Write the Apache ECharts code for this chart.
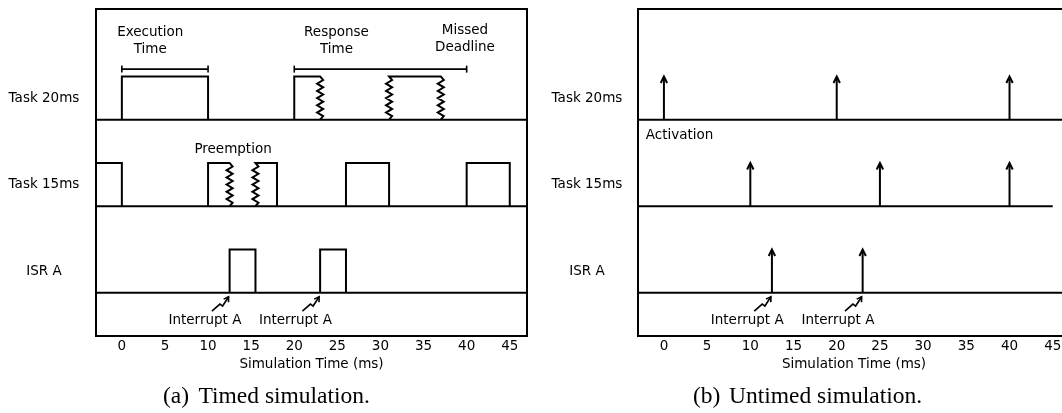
<!DOCTYPE html>
<html><head><meta charset="utf-8">
<script src="https://cdn.jsdelivr.net/npm/echarts@6/dist/echarts.min.js"></script>
<style>html,body{margin:0;padding:0;background:#fff}#c{width:1062px;height:413px}</style>
</head><body><div id="c"></div>
<script>
// ---------------- data ----------------
const tickValues = [0, 5, 10, 15, 20, 25, 30, 35, 40, 45];
const rowNames = ['ISR A', 'Task 15ms', 'Task 20ms'];   // bottom to top
const rowLevels = [1, 2, 3];
// Timed simulation: execution segments [start, end, startEdge, endEdge]
// 'e' = plain edge, 'z' = preempted / resumed (zigzag), 'n' = none (cut by frame)
const timedTask20 = [[0, 10, 'e', 'e'], [20, 23, 'e', 'z'], [31, 37, 'z', 'z']];
const timedTask15 = [[-3, 0, 'n', 'e'], [10, 12.5, 'e', 'z'], [15.5, 18, 'z', 'e'], [26, 31, 'e', 'e'], [40, 45, 'e', 'e']];
const timedISR = [[12.5, 15.5, 'e', 'e'], [23, 26, 'e', 'e']];
const interruptTimes = [12.5, 23];
// Untimed simulation: activation times
const untimedTask20 = [0, 20, 40];
const untimedTask15 = [10, 25, 40];
const untimedISR = [12.5, 23];
// Brackets (ms)
const execBracket = [0, 10];
const respBracket = [20, 40];
// Annotation texts
const timedNotes = [
  [3.3, 3.913, 'Execution\nTime', 'center'],
  [24.9, 3.913, 'Response\nTime', 'center'],
  [39.8, 3.938, 'Missed\nDeadline', 'center'],
  [12.9, 2.661, 'Preemption', 'center']
];
const untimedNotes = [[-2.1, 2.815, 'Activation', 'left']];
const bracketLevel = 3.585;
const xMin = -3, xMax = 47, yMin = 0.5, yMax = 4.28, PULSE_H = 0.5;

// ---------------- drawing helpers ----------------
const FONT = 'DejaVu Sans', FS = 13.5, LW = 2;
const ls = () => ({ stroke: '#000', lineWidth: LW, fill: null });
const ts = (text, align) => ({ text, fill: '#000', fontSize: FS, fontFamily: FONT, align: align || 'center', verticalAlign: 'middle', lineHeight: 17 });

function zigzag(x, yTop, yBot, topToBottom) {
  const N = 12, amp = 3, pts = [];
  for (let k = 0; k <= N; k++) {
    const dx = (k === 0 || k === N) ? 0 : (k % 2 ? amp : -amp);
    pts.push([x + dx, yTop + (yBot - yTop) * k / N]);
  }
  return topToBottom ? pts : pts.reverse();
}

function pulseSeries(gi, rows) {
  const items = [];
  rows.forEach(([lvl, segs]) => segs.forEach(s => items.push({ lvl, s })));
  return {
    type: 'custom', xAxisIndex: gi, yAxisIndex: gi, silent: true, clip: false, z: 5,
    data: items.map(it => [it.s[0], it.lvl, it.s[1]]),
    renderItem(params, api) {
      const x0 = api.value(0), lvl = api.value(1), x1 = api.value(2);
      const it = items[params.dataIndex];
      const pb = api.coord([x0, lvl]), pt = api.coord([x0, lvl + PULSE_H]);
      const qb = api.coord([x1, lvl]), qt = api.coord([x1, lvl + PULSE_H]);
      let pts = [];
      const st = it.s[2], en = it.s[3];
      if (st === 'e') pts.push(pb, pt);
      else if (st === 'z') pts = pts.concat(zigzag(pb[0], pt[1], pb[1], false));
      else pts.push(pt);
      if (en === 'e') pts.push(qt, qb);
      else if (en === 'z') pts = pts.concat(zigzag(qb[0], qt[1], qb[1], true));
      else pts.push(qt);
      return { type: 'polyline', shape: { points: pts }, style: ls() };
    }
  };
}

function baselineSeries(gi, spans) {
  return {
    type: 'custom', xAxisIndex: gi, yAxisIndex: gi, silent: true, clip: false, z: 4,
    data: spans,
    renderItem(params, api) {
      const a = api.coord([api.value(1), api.value(0)]), b = api.coord([api.value(2), api.value(0)]);
      return { type: 'line', shape: { x1: a[0], y1: a[1], x2: b[0], y2: b[1] }, style: ls() };
    }
  };
}

function arrowSeries(gi, rows) {
  const data = [];
  rows.forEach(([lvl, xs]) => xs.forEach(x => data.push([x, lvl])));
  return {
    type: 'custom', xAxisIndex: gi, yAxisIndex: gi, silent: true, clip: false, z: 5,
    data,
    renderItem(params, api) {
      const b = api.coord([api.value(0), api.value(1)]);
      const t = api.coord([api.value(0), api.value(1) + PULSE_H]);
      return {
        type: 'group', children: [
          { type: 'line', shape: { x1: b[0], y1: b[1], x2: t[0], y2: t[1] + 1 }, style: ls() },
          { type: 'polyline', shape: { points: [[t[0] - 3.2, t[1] + 6.5], [t[0], t[1]], [t[0] + 3.2, t[1] + 6.5]] }, style: ls() }
        ]
      };
    }
  };
}

function interruptSeries(gi, times) {
  return {
    type: 'custom', xAxisIndex: gi, yAxisIndex: gi, silent: true, clip: false, z: 6,
    data: times.map(t => [t, rowLevels[0]]),
    renderItem(params, api) {
      const p = api.coord([api.value(0), api.value(1)]);
      const tx = p[0] - 1, ty = p[1] + 4;
      const rel = [[-16.7, 14.3], [-8.7, 7.3], [-6, 9.3], [0, 0]];
      const pts = rel.map(r => [tx + r[0], ty + r[1]]);
      const dx = 6, dy = -9.3, L = Math.hypot(dx, dy), ux = dx / L, uy = dy / L;
      const head = (ang) => {
        const c = Math.cos(ang), s = Math.sin(ang);
        const bx = -ux, by = -uy;
        return [tx + 5.5 * (bx * c - by * s), ty + 5.5 * (bx * s + by * c)];
      };
      return {
        type: 'group', children: [
          { type: 'polyline', shape: { points: pts }, style: { stroke: '#000', lineWidth: 1.6, fill: null } },
          { type: 'polyline', shape: { points: [head(0.55), [tx, ty], head(-0.55)] }, style: { stroke: '#000', lineWidth: 1.6, fill: null } },
          { type: 'text', x: p[0] - 24.7, y: p[1] + 27.3, style: ts('Interrupt A') }
        ]
      };
    }
  };
}

function bracketSeries(gi, brs) {
  return {
    type: 'custom', xAxisIndex: gi, yAxisIndex: gi, silent: true, clip: false, z: 5,
    data: brs.map(b => [b[0], bracketLevel, b[1]]),
    renderItem(params, api) {
      const a = api.coord([api.value(0), api.value(1)]), b = api.coord([api.value(2), api.value(1)]);
      const st = { stroke: '#000', lineWidth: 1.6, fill: null };
      return {
        type: 'group', children: [
          { type: 'line', shape: { x1: a[0], y1: a[1], x2: b[0], y2: b[1] }, style: st },
          { type: 'line', shape: { x1: a[0], y1: a[1] - 3.5, x2: a[0], y2: a[1] + 3.5 }, style: st },
          { type: 'line', shape: { x1: b[0], y1: b[1] - 3.5, x2: b[0], y2: b[1] + 3.5 }, style: st }
        ]
      };
    }
  };
}

function noteSeries(gi, notes) {
  return {
    type: 'custom', xAxisIndex: gi, yAxisIndex: gi, silent: true, clip: false, z: 6,
    data: notes.map(n => [n[0], n[1]]),
    renderItem(params, api) {
      const p = api.coord([api.value(0), api.value(1)]);
      const n = notes[params.dataIndex];
      return { type: 'text', x: p[0], y: p[1], style: ts(n[2], n[3]) };
    }
  };
}

const axisText = { fontSize: FS, fontFamily: FONT, color: '#000' };
function xAx(gi) {
  return {
    type: 'value', gridIndex: gi, min: xMin, max: xMax,
    axisLine: { show: false }, axisTick: { show: false }, splitLine: { show: false },
    axisLabel: Object.assign({ customValues: tickValues, margin: 3, formatter: v => String(v) }, axisText),
    name: 'Simulation Time (ms)', nameLocation: 'middle', nameGap: 20, nameTextStyle: axisText
  };
}
function yAx(gi, margin) {
  return {
    type: 'value', gridIndex: gi, min: yMin, max: yMax,
    axisLine: { show: false }, axisTick: { show: false }, splitLine: { show: false },
    axisLabel: Object.assign({
      customValues: rowLevels.map(l => l + 0.25), align: 'center', margin,
      formatter: v => rowNames[Math.round(v - 1.25)] || ''
    }, axisText)
  };
}

const chart = echarts.init(document.getElementById('c'), null, { renderer: 'canvas' });
const capStyle = (text, x, align) => ({
  type: 'text', x, y: 397, silent: true,
  style: { text, fill: '#000', fontSize: 23.5, fontFamily: 'Liberation Serif', align: align || 'left', verticalAlign: 'middle' }
});
chart.setOption({
  animation: false,
  backgroundColor: '#fff',
  grid: [
    { left: 96, top: 9, width: 431, height: 327, show: true, borderColor: '#000', borderWidth: 2, backgroundColor: 'transparent', containLabel: false, outerBoundsMode: 'none' },
    { left: 638, top: 9, width: 432, height: 327, show: true, borderColor: '#000', borderWidth: 2, backgroundColor: 'transparent', containLabel: false, outerBoundsMode: 'none' }
  ],
  xAxis: [xAx(0), xAx(1)],
  yAxis: [yAx(0, 52), yAx(1, 51)],
  series: [
    baselineSeries(0, [[1, xMin, xMax], [2, xMin, xMax], [3, xMin, xMax]]),
    pulseSeries(0, [[3, timedTask20], [2, timedTask15], [1, timedISR]]),
    interruptSeries(0, interruptTimes),
    bracketSeries(0, [execBracket, respBracket]),
    noteSeries(0, timedNotes),
    baselineSeries(1, [[1, xMin, xMax], [2, xMin, 45], [3, xMin, xMax]]),
    arrowSeries(1, [[3, untimedTask20], [2, untimedTask15], [1, untimedISR]]),
    interruptSeries(1, untimedISR),
    noteSeries(1, untimedNotes)
  ],
  graphic: [
    capStyle('(a)', 163), capStyle('Timed simulation.', 198.5),
    capStyle('(b)', 693), capStyle('Untimed simulation.', 729)
  ]
});
</script></body></html>
